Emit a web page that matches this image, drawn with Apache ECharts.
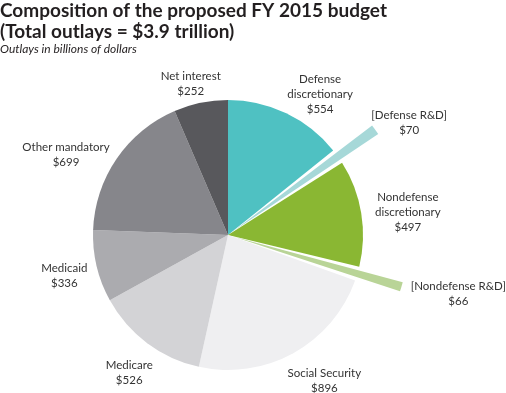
<!DOCTYPE html>
<html><head><meta charset="utf-8">
<script src="https://cdn.jsdelivr.net/npm/echarts@6/dist/echarts.min.js"></script>
<style>html,body{margin:0;padding:0;background:#fff}#c{width:506px;height:393px}</style>
</head><body><div id="c"></div>
<script>
var categories = ['Defense\ndiscretionary','[Defense R&D]','Nondefense\ndiscretionary','[Nondefense R&D]','Social Security','Medicare','Medicaid','Other mandatory','Net interest'];
var values = [554, 70, 497, 66, 896, 526, 336, 699, 252];
var isRD = [false, true, false, true, false, false, false, false, false];
var colors = ['#4FC1C2','#A6D8D8','#8AB733','#B9D497','#EFEFF1','#D3D3D6','#ABABAF','#86868B','#58585C'];
var labelShift = [[23,4],[51,-19],[22,3],[77,13],[19,6],[-3,10],[-8,4],[-30,10],[-5,6]];

var FONT = 'Lato';
var mainData = categories.map(function(n,i){
  return {name:n, value:values[i], itemStyle:{color: isRD[i] ? 'rgba(0,0,0,0)' : colors[i]}};
});
var rdData = categories.map(function(n,i){
  return {name:n, value:values[i], selected: isRD[i], itemStyle:{color: isRD[i] ? colors[i] : 'rgba(0,0,0,0)'}};
});

var chart = echarts.init(document.getElementById('c'));
chart.setOption({
  animation:false,
  title:{
    text:'Composition of the proposed FY 2015 budget\n(Total outlays = $3.9 trillion)',
    subtext:'Outlays in billions of dollars',
    left:0, top:0, padding:0, itemGap:1,
    textStyle:{fontFamily:FONT, fontWeight:'bold', fontSize:19, lineHeight:21, color:'#231F20'},
    subtextStyle:{fontFamily:FONT, fontStyle:'italic', fontSize:12, color:'#231F20'}
  },
  series:[{
    type:'pie', silent:true, center:[228,235], radius:[0,135], startAngle:90, clockwise:true,
    avoidLabelOverlap:false,
    data: mainData,
    label:{show:true, position:'outside', formatter:'{b}\n${c}', fontFamily:FONT, fontSize:11.5, lineHeight:15, color:'#333', align:'center', distanceToLabelLine:0},
    labelLine:{show:false, length:25, length2:0},
    labelLayout:function(p){ var o = labelShift[p.dataIndex]; return {dx:o[0], dy:o[1], align:'center', verticalAlign:'middle'}; }
  },{
    type:'pie', silent:true, center:[228,235], radius:[0,175], startAngle:90, clockwise:true,
    padAngle:3, selectedMode:'multiple', selectedOffset:6,
    data: rdData,
    label:{show:false}, labelLine:{show:false}
  }]
});
</script></body></html>
